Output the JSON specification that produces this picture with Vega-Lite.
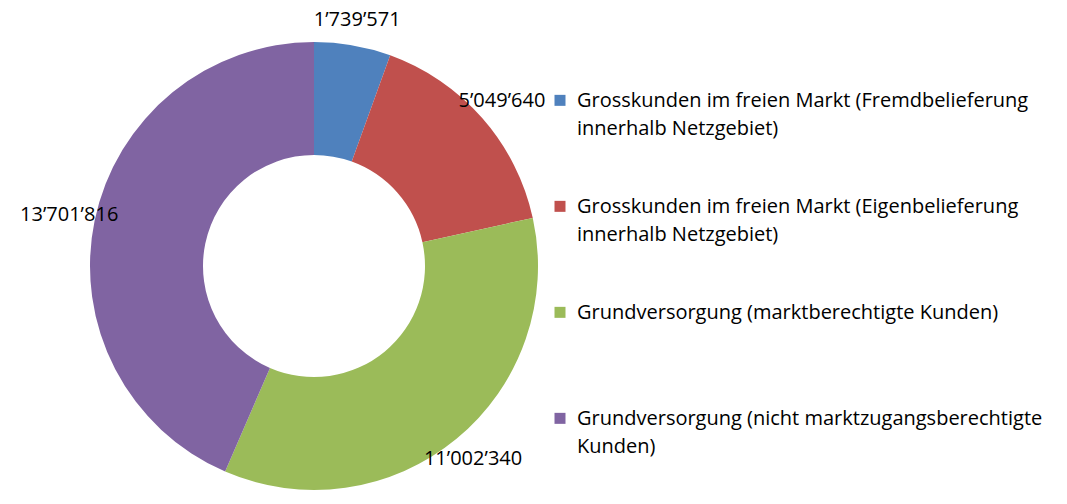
{
  "$schema": "https://vega.github.io/schema/vega-lite/v6.json",
  "width": 628,
  "height": 532,
  "autosize": {"type": "none"},
  "padding": {"left": 0, "top": 0, "right": 439, "bottom": 0},
  "background": "white",
  "config": {
    "view": {"stroke": null},
    "locale": {"number": {"decimal": ".", "thousands": "’", "grouping": [3], "currency": ["", ""]}},
    "style": {"guide-label": {"lineHeight": 28}}
  },
  "data": {
    "values": [
      {"kategorie": "Grosskunden im freien Markt (Fremdbelieferung innerhalb Netzgebiet)", "wert": 1739571, "rang": 1},
      {"kategorie": "Grosskunden im freien Markt (Eigenbelieferung innerhalb Netzgebiet)", "wert": 5049640, "rang": 2},
      {"kategorie": "Grundversorgung (marktberechtigte Kunden)", "wert": 11002340, "rang": 3},
      {"kategorie": "Grundversorgung (nicht marktzugangsberechtigte Kunden)", "wert": 13701816, "rang": 4}
    ]
  },
  "encoding": {
    "theta": {"field": "wert", "type": "quantitative", "stack": true},
    "order": {"field": "rang", "type": "quantitative"}
  },
  "layer": [
    {
      "mark": {"type": "arc", "outerRadius": 224, "innerRadius": 111, "strokeWidth": 0},
      "encoding": {
        "color": {
          "field": "kategorie",
          "type": "nominal",
          "scale": {
            "domain": [
              "Grosskunden im freien Markt (Fremdbelieferung innerhalb Netzgebiet)",
              "Grosskunden im freien Markt (Eigenbelieferung innerhalb Netzgebiet)",
              "Grundversorgung (marktberechtigte Kunden)",
              "Grundversorgung (nicht marktzugangsberechtigte Kunden)"
            ],
            "range": ["#4F81BD", "#C0504D", "#9BBB59", "#8064A2"]
          },
          "legend": {
            "title": null,
            "orient": "none",
            "legendX": 550,
            "legendY": 81,
            "symbolType": "M-1,0.7H1V2.7H-1Z",
            "symbolSize": 121,
            "symbolStrokeWidth": 0,
            "labelFont": "Open Sans",
            "labelFontSize": 20,
            "labelColor": "#000000",
            "labelLimit": 0,
            "labelOffset": 7,
            "labelBaseline": "top",
            "gridAlign": "all",
            "rowPadding": 48,
            "labelExpr": "datum.label == 'Grundversorgung (marktberechtigte Kunden)' ? [datum.label, ' '] : split(replace(replace(datum.label, ' innerhalb', '|innerhalb'), ' Kunden)', '|Kunden)'), '|')"
          }
        }
      }
    },
    {
      "mark": {"type": "text", "radius": 250, "font": "Open Sans", "fontSize": 20, "color": "#000000"},
      "encoding": {
        "text": {"field": "wert", "type": "quantitative", "format": ",d"}
      }
    }
  ]
}
